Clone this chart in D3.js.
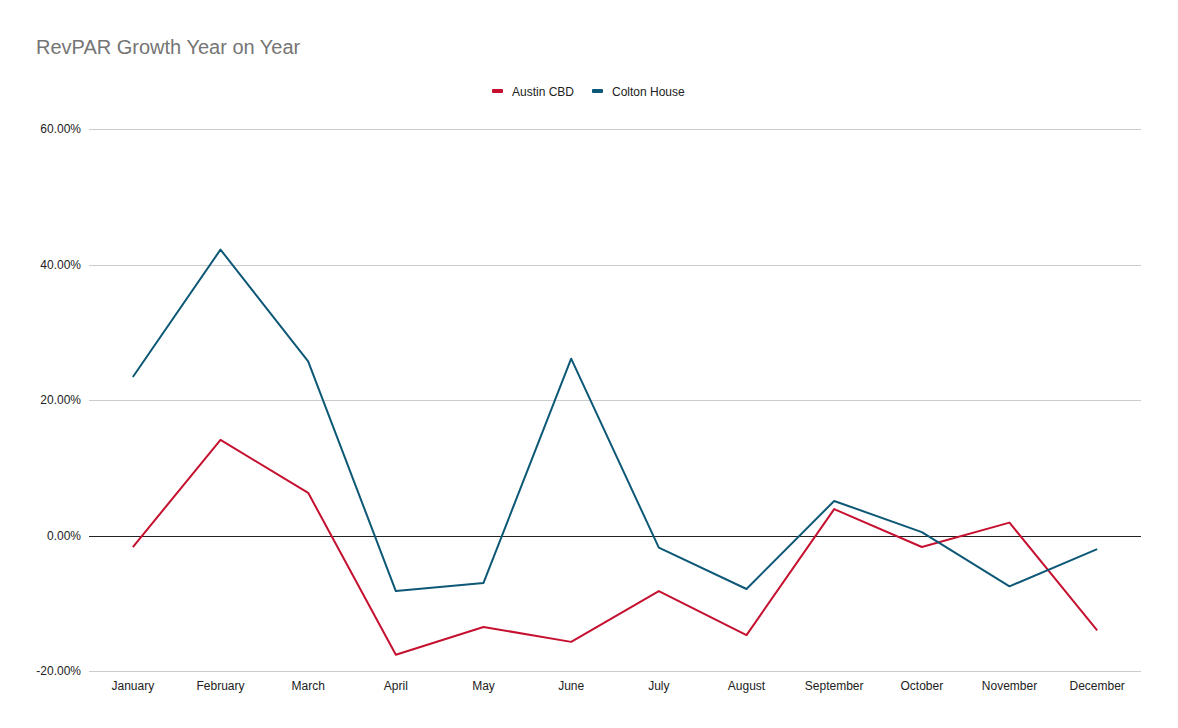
<!DOCTYPE html>
<meta charset="utf-8">
<html>

<head>
    <title>RevPAR Growth Year on Year</title>
    <style>
        body { margin: 0; background: #fff; }
        text { font-family: "Liberation Sans", Arial, sans-serif; }
    </style>
</head>

<body>
    <div id="container"></div>

    <script src="https://d3js.org/d3.v7.min.js"></script>

    <script>
        // chart data
        const months = ["January", "February", "March", "April", "May", "June",
            "July", "August", "September", "October", "November", "December"];
        const austinCBD = [-1.7, 14.1, 6.3, -17.6, -13.5, -15.7, -8.2, -14.7, 3.9, -1.7, 1.9, -14.0];
        const coltonHouse = [23.4, 42.2, 25.7, -8.2, -7.0, 26.1, -1.8, -7.9, 5.1, 0.5, -7.5, -2.0];
        const yTicks = [-20, 0, 20, 40, 60];

        const seriesList = [
            { name: "Austin CBD", values: austinCBD, color: "#c5102f" },
            { name: "Colton House", values: coltonHouse, color: "#0d5876" }
        ];

        const width = 1178,
            height = 728,
            margin = { top: 129, right: 37, bottom: 57, left: 89 };

        const svg = d3.select("#container").append("svg")
            .attr("width", width)
            .attr("height", height);

        const x = d3.scaleBand()
            .domain(months)
            .range([margin.left, width - margin.right]);

        const y = d3.scaleLinear()
            .domain([-20, 60])
            .range([height - margin.bottom, margin.top]);

        // title
        svg.append("text")
            .attr("x", 36)
            .attr("y", 54)
            .attr("fill", "#757575")
            .attr("font-size", 20)
            .text("RevPAR Growth Year on Year");

        // gridlines + y labels
        const yAxis = svg.append("g")
            .attr("transform", `translate(${margin.left},0)`)
            .call(d3.axisLeft(y)
                .tickValues(yTicks)
                .tickSize(-(width - margin.left - margin.right))
                .tickFormat(d => d.toFixed(2) + "%"));
        yAxis.select(".domain").remove();
        yAxis.selectAll(".tick line")
            .attr("stroke", d => d === 0 ? "#222" : "#ccc")
            .attr("shape-rendering", "crispEdges");
        yAxis.selectAll(".tick text")
            .attr("x", -8)
            .attr("fill", "#222")
            .attr("font-size", 12)
            .attr("font-family", "Liberation Sans, Arial, sans-serif");

        // x labels
        const xAxis = svg.append("g")
            .attr("transform", `translate(0,${height - margin.bottom})`)
            .call(d3.axisBottom(x).tickSize(0).tickPadding(10));
        xAxis.select(".domain").remove();
        xAxis.selectAll(".tick text")
            .attr("fill", "#222")
            .attr("font-size", 12)
            .attr("font-family", "Liberation Sans, Arial, sans-serif");

        // lines
        const line = d3.line()
            .x((d, i) => x(months[i]) + x.bandwidth() / 2)
            .y(d => y(d));

        svg.append("g")
            .selectAll("path")
            .data(seriesList)
            .join("path")
            .attr("fill", "none")
            .attr("stroke", d => d.color)
            .attr("stroke-width", 2)
            .attr("stroke-linejoin", "round")
            .attr("d", d => line(d.values));

        // legend
        const legendX = [492, 592];
        const legend = svg.append("g")
            .selectAll("g")
            .data(seriesList)
            .join("g")
            .attr("transform", (d, i) => `translate(${legendX[i]},91)`);
        legend.append("rect")
            .attr("x", 0)
            .attr("y", -2)
            .attr("width", 11)
            .attr("height", 4)
            .attr("rx", 1)
            .attr("fill", d => d.color);
        legend.append("text")
            .attr("x", 20)
            .attr("y", 4.5)
            .attr("font-size", 12)
            .attr("fill", "#222")
            .text(d => d.name);
    </script>
</body>

</html>
